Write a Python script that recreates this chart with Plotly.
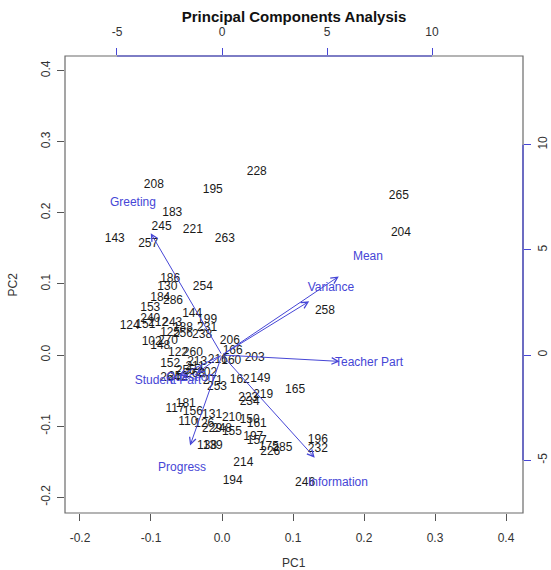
import plotly.graph_objects as go

# ---- data: PC scores (observations) ----
obs_labels = ["228","208","195","183","245","221","263","143","257","265","204","186","130","254",
              "184","286","153","258","144","199","240","124","151","212","243","231","188","125",
              "256","238","206","102","270","148","166","122","260","203","152","213","211","216",
              "160","202","255","252","268","264","162","149","253","271","165","219","223","234",
              "181","117","156","131","210","150","161","110","126","229","248","155","197","157",
              "175","285","226","138","139","196","232","214","194","246"]
pc1 = [0.049,-0.096,-0.013,-0.070,-0.085,-0.041,0.004,-0.151,-0.104,0.249,0.252,-0.073,-0.077,-0.027,
       -0.087,-0.069,-0.101,0.145,-0.042,-0.021,-0.101,-0.130,-0.108,-0.090,-0.070,-0.021,-0.055,-0.073,
       -0.055,-0.028,0.011,-0.099,-0.076,-0.087,0.015,-0.062,-0.041,0.046,-0.073,-0.035,-0.038,-0.006,
       0.013,-0.021,-0.051,-0.062,-0.038,-0.073,0.025,0.054,-0.007,-0.013,0.103,0.058,0.037,0.039,
       -0.051,-0.066,-0.041,-0.014,0.014,0.039,0.049,-0.048,-0.025,-0.014,0.000,0.014,0.044,0.049,
       0.066,0.085,0.068,-0.021,-0.013,0.135,0.135,0.030,0.015,0.117]
pc2 = [0.257,0.239,0.232,0.200,0.180,0.176,0.163,0.163,0.156,0.224,0.172,0.107,0.096,0.096,
       0.080,0.076,0.066,0.062,0.058,0.049,0.051,0.041,0.042,0.045,0.045,0.038,0.038,0.031,
       0.030,0.028,0.020,0.018,0.020,0.013,0.006,0.003,0.003,-0.004,-0.013,-0.010,-0.017,-0.007,
       -0.008,-0.025,-0.023,-0.031,-0.027,-0.032,-0.035,-0.034,-0.045,-0.037,-0.049,-0.056,-0.060,-0.066,
       -0.069,-0.076,-0.080,-0.084,-0.089,-0.091,-0.097,-0.094,-0.097,-0.104,-0.104,-0.108,-0.115,-0.121,
       -0.129,-0.131,-0.136,-0.128,-0.128,-0.120,-0.132,-0.152,-0.177,-0.180]

# ---- data: variable loadings (top/right axis units) ----
var_names = ["Greeting","Mean","Variance","Teacher Part","Information","Progress","Student Part","Question"]
load1 = [-4.24, 6.95, 5.19, 7.00, 5.52, -1.90, -2.57, -1.52]
load2 = [7.24, 4.67, 3.19, -0.38, -6.10, -5.38, -1.24, -1.10]

# ---- axis ticks ----
pc_ticks = [-0.2, -0.1, 0.0, 0.1, 0.2, 0.3, 0.4]
load_ticks = [-5, 0, 5, 10]

xlim = [-0.2211, 0.4239]
ylim = [-0.2222, 0.4205]
ratio = 0.029577   # loading units -> PC units
x2lim = [v / ratio for v in xlim]
y2lim = [v / ratio for v in ylim]

BLUE = "#4646d6"
FONT = "Liberation Sans, Arial, sans-serif"

fig = go.Figure()

fig.add_trace(go.Scatter(
    x=pc1, y=pc2, text=obs_labels, mode="text",
    textfont=dict(family=FONT, size=12, color="#1a1a1a"),
    xaxis="x", yaxis="y", hoverinfo="text", showlegend=False))

fig.add_trace(go.Scatter(
    x=load1, y=load2, text=var_names, mode="text",
    textfont=dict(family=FONT, size=12, color=BLUE),
    xaxis="x2", yaxis="y2", hoverinfo="text", showlegend=False))

annotations = []
for n, a, b in zip(var_names, load1, load2):
    annotations.append(dict(
        x=0.8 * a, y=0.8 * b, xref="x2", yref="y2",
        ax=0, ay=0, axref="x2", ayref="y2",
        showarrow=True, arrowhead=5, arrowsize=1.3, arrowwidth=1,
        arrowcolor=BLUE, text="", standoff=0, startstandoff=0))

annotations.append(dict(text="PC1", x=0.5, y=0, xref="paper", yref="paper",
                        yshift=-50, showarrow=False, yanchor="middle",
                        font=dict(family=FONT, size=12, color="#333")))
annotations.append(dict(text="PC2", x=0, y=0.5, xref="paper", yref="paper",
                        xshift=-53, showarrow=False, textangle=-90, xanchor="center",
                        font=dict(family=FONT, size=12, color="#333")))

shapes = [
    dict(type="rect", xref="paper", yref="paper", x0=0, y0=0, x1=1, y1=1,
         line=dict(color="#6a6a6a", width=1.2)),
    dict(type="line", xref="x2", yref="paper", x0=load_ticks[0], x1=load_ticks[-1],
         y0=1, y1=1, line=dict(color=BLUE, width=1.2)),
    dict(type="line", xref="paper", yref="y2", y0=load_ticks[0], y1=load_ticks[-1],
         x0=1, x1=1, line=dict(color=BLUE, width=1.2)),
]

axis_common = dict(showgrid=False, zeroline=False, showline=False, ticks="outside",
                   ticklen=7, tickwidth=1, automargin=False,
                   tickfont=dict(family=FONT, size=12, color="#333"))

fig.update_layout(
    width=551, height=570,
    margin=dict(l=65, r=28, t=56, b=57, autoexpand=False),
    paper_bgcolor="white", plot_bgcolor="white",
    title=dict(text="<b>Principal Components Analysis</b>", x=0.5, xref="paper",
               y=1 - 17 / 570, yref="container", yanchor="middle", xanchor="center",
               font=dict(family=FONT, size=15, color="#111")),
    xaxis=dict(range=xlim, tickvals=pc_ticks, ticktext=[f"{v:.1f}" for v in pc_ticks],
               tickcolor="#555", ticklabelstandoff=7, **axis_common),
    yaxis=dict(range=ylim, tickvals=pc_ticks, ticktext=[f"{v:.1f}" for v in pc_ticks],
               tickangle=-90, tickcolor="#555", ticklabelstandoff=2, **axis_common),
    xaxis2=dict(range=x2lim, overlaying="x", side="top", anchor="y",
                tickvals=load_ticks, ticktext=[str(v) for v in load_ticks],
                tickcolor=BLUE, ticklabelstandoff=7, **axis_common),
    yaxis2=dict(range=y2lim, overlaying="y", side="right", anchor="x",
                tickvals=load_ticks, ticktext=[str(v) for v in load_ticks],
                tickangle=-90, tickcolor=BLUE, ticklabelstandoff=2, **axis_common),
    annotations=annotations, shapes=shapes, showlegend=False,
)

fig.write_html("out.html")
